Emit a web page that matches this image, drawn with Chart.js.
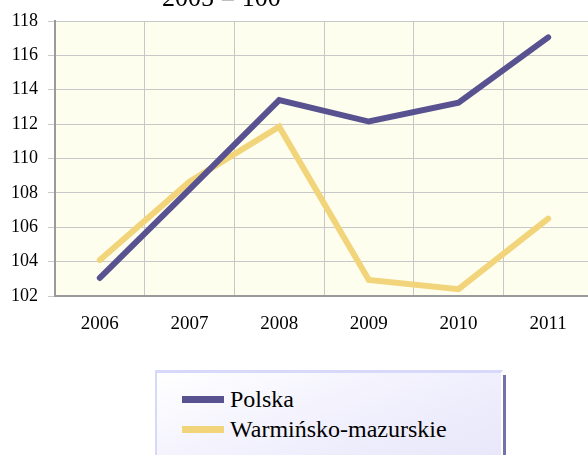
<!DOCTYPE html>
<html>
<head>
<meta charset="utf-8">
<script src="https://cdn.jsdelivr.net/npm/chart.js@4.4.1/dist/chart.umd.min.js"></script>
<style>
  html, body {
    margin: 0;
    padding: 0;
    background: #ffffff;
    overflow: hidden;
    width: 588px;
    height: 455px;
  }
  #wrap {
    position: absolute;
    left: 0;
    top: 0;
    width: 593px;
    height: 345px;
  }
  #legend {
    position: absolute;
    left: 155px;
    top: 370px;
    width: 319px;
    height: 120px;
    box-sizing: content-box;
    border-top: 3px solid #d8d8fa;
    border-left: 2px solid #d8d8fa;
    border-right: 2px solid #ffffff;
    box-shadow: 3px 5px 0 #7472aa;
    background: linear-gradient(160deg, #ffffff 0%, #f1f0fd 45%, #e4e2f8 100%);
    padding-top: 11px;
    padding-left: 25px;
    font-family: 'Liberation Serif', serif;
    font-size: 24px;
    color: #000000;
  }
  .item {
    display: flex;
    align-items: center;
    height: 30px;
    line-height: 30px;
  }
  .swatch {
    width: 42px;
    height: 7px;
    margin-right: 6px;
  }
</style>
</head>
<body>
<div id="wrap"><canvas id="chartIndex" width="593" height="345"></canvas></div>
<div id="legend"></div>
<script>
// values, 2005 = 100
let years = ["2006", "2007", "2008", "2009", "2010", "2011"];
let polska = [103.05, 108.2, 113.4, 112.15, 113.25, 117.05];
let warminsko = [104.1, 108.65, 111.85, 102.93, 102.4, 106.5];
let yTicks = [102, 104, 106, 108, 110, 112, 114, 116, 118];
let titleText = "2005 = 100";
let serifFamily = "'Liberation Serif', serif";

let chartIndex = null;

// light yellow plot area + the cut off title at the top
const backdrop = {
  id: "backdrop",
  beforeDraw(chart) {
    let a = chart.chartArea;
    let ctx = chart.ctx;
    ctx.save();
    ctx.fillStyle = "#fefeee";
    ctx.fillRect(a.left, a.top, a.right - a.left, a.bottom - a.top);
    ctx.restore();
  },
  afterDraw(chart) {
    let ctx = chart.ctx;
    ctx.save();
    ctx.font = "26px " + serifFamily;
    ctx.fillStyle = "#000000";
    ctx.textBaseline = "alphabetic";
    ctx.fillText(titleText, 162, 6);
    ctx.restore();
  },
};

function buildLegend(chart) {
  let html = "";
  chart.data.datasets.forEach((ds) => {
    html +=
      "<div class='item'><span class='swatch' style='background:" +
      ds.borderColor +
      "'></span><span>" +
      ds.label +
      "</span></div>";
  });
  document.getElementById("legend").innerHTML = html;
}

function drawChart() {
  chartIndex = new Chart("chartIndex", {
    type: "line",
    plugins: [backdrop],
    data: {
      labels: years,
      datasets: [
        {
          label: "Polska",
          data: polska,
          borderColor: "#585290",
          borderWidth: 6,
          pointRadius: 0,
          borderCapStyle: "round",
          borderJoinStyle: "miter",
          tension: 0,
        },
        {
          label: "Warmińsko-mazurskie",
          data: warminsko,
          borderColor: "#f2d47a",
          borderWidth: 6,
          pointRadius: 0,
          borderCapStyle: "round",
          borderJoinStyle: "miter",
          tension: 0,
        },
      ],
    },
    options: {
      responsive: false,
      animation: false,
      layout: {
        padding: { top: 21, left: 0, right: 0, bottom: 0 },
      },
      plugins: {
        legend: { display: false },
        tooltip: { enabled: false },
      },
      scales: {
        x: {
          offset: true,
          grid: {
            offset: true,
            color: "#c8c8c8",
            lineWidth: 1,
            drawTicks: false,
          },
          border: { color: "#9a9a9a", width: 2 },
          ticks: {
            padding: 17,
            color: "#000000",
            font: { family: serifFamily, size: 19 },
          },
          afterFit: (s) => {
            s.height = 49;
          },
        },
        y: {
          min: yTicks[0],
          max: yTicks[yTicks.length - 1],
          afterBuildTicks: (s) => {
            s.ticks = yTicks.map((v) => ({ value: v }));
          },
          grid: {
            color: "#c8c8c8",
            lineWidth: 1,
            tickLength: 7,
          },
          border: { color: "#9a9a9a", width: 2 },
          ticks: {
            padding: 10,
            color: "#000000",
            font: { family: serifFamily, size: 18 },
          },
          afterFit: (s) => {
            s.width = 55;
          },
        },
      },
    },
  });
  buildLegend(chartIndex);
}

try {
  drawChart();
} catch (e) {
  console.error(e);
}
</script>
</body>
</html>
